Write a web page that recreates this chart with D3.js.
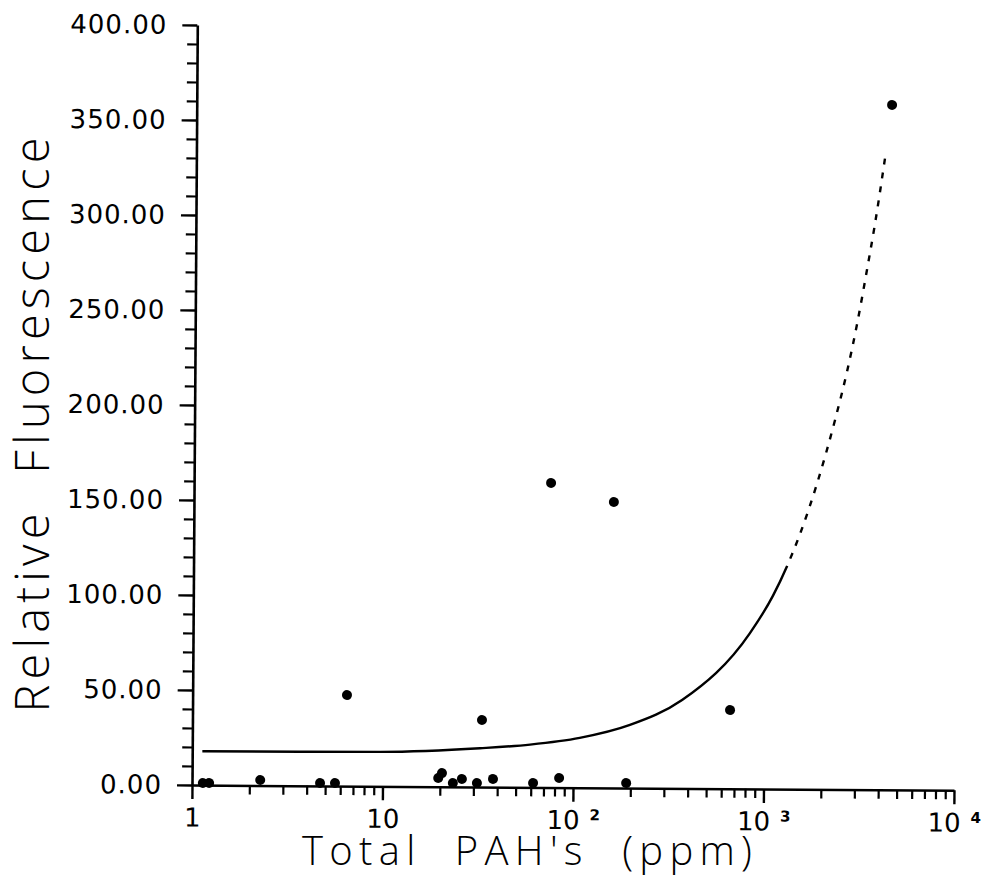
<!DOCTYPE html>
<html>
<head>
<meta charset="utf-8">
<script src="https://cdn.jsdelivr.net/npm/d3@7"></script>
<style>
  body { margin: 0; background: #fff; }
  svg { display: block; }
</style>
</head>
<body>
<script>
// measured samples: total PAH (ppm) and relative fluorescence
const samplePAH = [1.14, 1.23, 2.28, 4.70, 5.63, 6.46, 19.6, 20.5, 23.4, 26.1, 31.3, 33.1, 38.0, 61.7, 84.5, 190, 74.8, 160, 663, 4467];
const sampleFluor = [1.1, 1.1, 2.9, 1.5, 1.6, 47.9, 4.6, 7.2, 2.0, 4.2, 2.1, 35.3, 4.3, 2.3, 5.0, 2.6, 160.3, 150.5, 41.4, 360.5];

// fitted curve
const fitPAH = [1.13, 3.68, 9.69, 32.4, 59.3, 108, 198, 371, 838, 1104, 1306, 1521, 2302, 2650, 2979, 3343, 3671, 4120];
const fitFluor = [17.8, 17.9, 18.1, 20.4, 22.5, 26.2, 33.2, 46.5, 82.0, 101.8, 117.5, 134.3, 194.5, 220.0, 245.0, 273.5, 298.0, 332.5];
const fitBreakPAH = 1306; // above this the printed line turns broken

// axis ticks
const xMajorTicks = [1, 10, 100, 1000, 10000];
const xTickBase = ['1', '10', '10', '10', '10'];
const xTickExp = ['', '', '2', '3', '4'];
const yMajorTicks = [0, 50, 100, 150, 200, 250, 300, 350, 400];

const xTitle = "Total  PAH's  (ppm)";
const yTitle = 'Relative  Fluorescence';

const width = 985;
const height = 889;

const svg = d3.select('body').append('svg')
  .attr('width', width)
  .attr('height', height);

const xScale = d3.scaleLog()
  .domain([1, 10000])
  .range([192, 954]);

const yScale = d3.scaleLinear()
  .domain([0, 400])
  .range([785, 25]);

// the scanned original sits slightly tilted
const plot = svg.append('g')
  .attr('transform', 'rotate(0.4, 192, 785)');

// minor ticks
const xMinor = xScale.ticks().filter(d => !xMajorTicks.includes(d));
const yMinor = d3.range(0, 401, 10).filter(d => d % 50 !== 0);

plot.append('g')
  .attr('transform', 'translate(0, 785)')
  .call(d3.axisBottom(xScale).tickValues(xMinor).tickSize(9).tickFormat(''))
  .call(g => g.select('.domain').remove())
  .selectAll('line').attr('stroke-width', 2.2);

plot.append('g')
  .attr('transform', 'translate(192, 0)')
  .call(d3.axisLeft(yScale).tickValues(yMinor).tickSize(10).tickFormat(''))
  .call(g => g.select('.domain').remove())
  .selectAll('line').attr('stroke-width', 2.2);

// major x axis
const xAxisG = plot.append('g')
  .attr('transform', 'translate(0, 785)')
  .call(d3.axisBottom(xScale)
    .tickValues(xMajorTicks)
    .tickSize(14)
    .tickSizeOuter(0)
    .tickPadding(9));

xAxisG.attr('font-family', "'DejaVu Sans', sans-serif").attr('font-size', 26);
xAxisG.select('.domain').attr('stroke-width', 2.6);
xAxisG.selectAll('line').attr('stroke-width', 2.4);
xAxisG.selectAll('.tick text').each(function(d, i) {
  const t = d3.select(this).text(xTickBase[i]);
  if (xTickExp[i]) {
    t.append('tspan')
      .attr('dx', 10)
      .attr('dy', -9)
      .attr('font-size', 15)
      .attr('font-weight', 'bold')
      .text(xTickExp[i]);
  }
});

// major y axis
const yAxisG = plot.append('g')
  .attr('transform', 'translate(192, 0)')
  .call(d3.axisLeft(yScale)
    .tickValues(yMajorTicks)
    .tickFormat(d3.format('.2f'))
    .tickSize(15)
    .tickSizeOuter(0)
    .tickPadding(15));

yAxisG.attr('font-family', "'DejaVu Sans', sans-serif").attr('font-size', 26);
yAxisG.select('.domain').attr('stroke-width', 2.6);
yAxisG.selectAll('line').attr('stroke-width', 2.4);
yAxisG.selectAll('.tick text').attr('letter-spacing', 1);

// fitted curve, one path: solid at the bottom, broken where it climbs steeply
const fitLine = d3.line()
  .x(i => xScale(fitPAH[i]))
  .y(i => yScale(fitFluor[i]))
  .curve(d3.curveMonotoneX);

const fitPath = plot.append('path')
  .attr('d', fitLine(d3.range(fitPAH.length)))
  .attr('fill', 'none')
  .attr('stroke', '#000')
  .attr('stroke-width', 2.4);

const pathNode = fitPath.node();
const totalLen = pathNode.getTotalLength();
const breakX = xScale(fitBreakPAH);
let lo = 0, hi = totalLen;
while (hi - lo > 0.5) {
  const mid = (lo + hi) / 2;
  if (pathNode.getPointAtLength(mid).x < breakX) lo = mid; else hi = mid;
}
const dashes = [lo];
let run = lo;
while (run < totalLen) {
  dashes.push(8, 6);
  run += 14;
}
fitPath.attr('stroke-dasharray', dashes.join(','));

// sample points
plot.selectAll('circle.pt').data(d3.range(samplePAH.length))
  .enter().append('circle')
  .attr('class', 'pt')
  .attr('cx', i => xScale(samplePAH[i]))
  .attr('cy', i => yScale(sampleFluor[i]))
  .attr('r', 5)
  .attr('fill', '#000');

// axis titles
svg.append('text')
  .attr('x', 527)
  .attr('y', 865)
  .attr('text-anchor', 'middle')
  .attr('font-family', "'Open Sans', sans-serif")
  .attr('font-weight', 300)
  .attr('font-size', 40)
  .attr('textLength', 450)
  .attr('lengthAdjust', 'spacing')
  .style('white-space', 'pre')
  .text(xTitle);

svg.append('text')
  .attr('transform', 'translate(49, 425) rotate(-90)')
  .attr('text-anchor', 'middle')
  .attr('font-family', "'Open Sans', sans-serif")
  .attr('font-weight', 300)
  .attr('font-size', 47)
  .attr('textLength', 575)
  .attr('lengthAdjust', 'spacing')
  .style('white-space', 'pre')
  .text(yTitle);
</script>
</body>
</html>
